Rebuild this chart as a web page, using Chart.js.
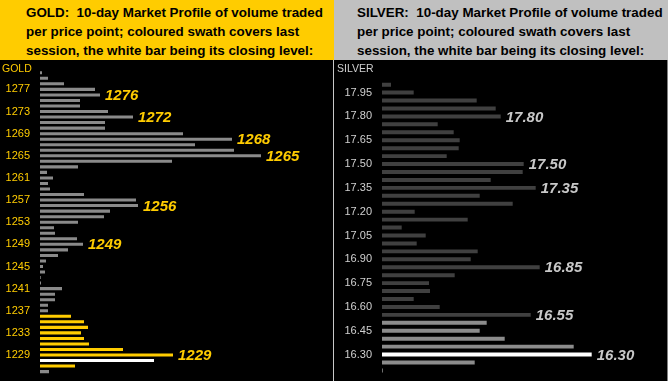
<!DOCTYPE html>
<html><head><meta charset="utf-8">
<script src="https://cdn.jsdelivr.net/npm/chart.js@4.4.1/dist/chart.umd.min.js"></script>
<style>
html,body{margin:0;padding:0;background:#000;}
#wrap{position:relative;width:668px;height:381px;overflow:hidden;background:#000;}
.hdr{position:absolute;top:0;height:60px;width:334px;font:bold 13.4px "Liberation Sans",Arial,sans-serif;line-height:19px;color:#000;white-space:pre;box-sizing:border-box;padding-top:3px;}
#gh{left:0;background:#FFCC00;padding-left:26px;}
#sh{left:334px;background:#C0C0C0;padding-left:23px;}
.panel{position:absolute;top:60px;width:334px;height:321px;}
#gp{left:0;}
#sp{left:334px;}
.name{position:absolute;top:62px;font:10.5px "Liberation Sans",Arial,sans-serif;line-height:12px;}
#gn{left:2px;color:#FFCC00;}
#sn{left:337px;color:#D0D0D0;}
#sep{position:absolute;left:333px;top:60px;width:1px;height:321px;background:#C8C8C8;}
#redge{position:absolute;left:667px;top:60px;width:1px;height:321px;background:#808080;}
</style>
</head><body>
<div id="wrap">
  <div class="hdr" id="gh">GOLD:  10-day Market Profile of volume traded
per price point; coloured swath covers last
session, the white bar being its closing level:</div>
  <div class="hdr" id="sh">SILVER:  10-day Market Profile of volume traded
per price point; coloured swath covers last
session, the white bar being its closing level:</div>
  <div class="panel" id="gp"><canvas id="gc" width="334" height="321"></canvas></div>
  <div class="panel" id="sp"><canvas id="sc" width="334" height="321"></canvas></div>
  <div id="sep"></div>
  <div id="redge"></div>
  <div class="name" id="gn">GOLD</div>
  <div class="name" id="sn">SILVER</div>
</div>
<script>
// ---------- GOLD ----------
const goldPrices = [1280,1279,1278,1277,1276,1275,1274,1273,1272,1271,1270,1269,1268,1267,1266,1265,1264,1263,1262,1261,1260,1259,1258,1257,1256,1255,1254,1253,1252,1251,1250,1249,1248,1247,1246,1245,1244,1243,1242,1241,1240,1239,1238,1237,1236,1235,1234,1233,1232,1231,1230,1229,1228,1227,1226];
const goldVolume = [2,8,24,55,60,40,40,68,93,65,65,143,192,155,194,221,132,38,7,13,8,10,44,96,98,70,64,38,14,15,37,43,28,18,6,3,5,0.7,1,22,15,15,8,8,31,44,48,41,44,49,83,133,114,35,9];
const goldTicks = [1277,1273,1269,1265,1261,1257,1253,1249,1245,1241,1237,1233,1229];
const goldMarked = [1276,1272,1268,1265,1256,1249,1229];
const goldSessionHigh = 1236;
const goldSessionLow = 1227;
const goldClose = 1228;

// ---------- SILVER ----------
const silverPrices = [18.00,17.95,17.90,17.85,17.80,17.75,17.70,17.65,17.60,17.55,17.50,17.45,17.40,17.35,17.30,17.25,17.20,17.15,17.10,17.05,17.00,16.95,16.90,16.85,16.80,16.75,16.70,16.65,16.60,16.55,16.50,16.45,16.40,16.35,16.30,16.25,16.20];
const silverVolume = [9,31.7,94.7,113.7,118.7,55.7,71.7,77.7,76.7,64.7,141.7,140.7,108.7,153.7,97.7,130.7,32.7,85.7,19.7,43.7,34.7,95.7,88.7,157.7,72.7,47,48,31.7,57.7,148.7,104.7,97.7,122.7,191.7,209.7,92.7,0.8];
const silverTicks = ['17.95','17.80','17.65','17.50','17.35','17.20','17.05','16.90','16.75','16.60','16.45','16.30'];
const silverMarked = ['17.80','17.50','17.35','16.85','16.55','16.30'];
const silverSessionHigh = 16.50;
const silverSessionLow = 16.20;
const silverClose = 16.30;

const FONT = '"Liberation Sans", Arial, sans-serif';

const valueLabels = {
  id: 'valueLabels',
  afterDatasetsDraw(chart, args, opts) {
    const ctx = chart.ctx;
    const meta = chart.getDatasetMeta(0);
    ctx.save();
    ctx.font = 'italic bold 15px ' + FONT;
    ctx.fillStyle = opts.color;
    ctx.textBaseline = 'middle';
    ctx.textAlign = 'left';
    opts.marks.forEach(m => {
      const i = chart.data.labels.indexOf(m);
      if (i < 0) return;
      const el = meta.data[i];
      ctx.fillText(m, el.x + 5, el.y + 1);
    });
    ctx.restore();
  }
};

function makeChart(id, labels, values, colors, ticks, marks, cfg) {
  return new Chart(document.getElementById(id), {
    type: 'bar',
    data: {
      labels: labels,
      datasets: [{
        data: values,
        backgroundColor: colors,
        borderWidth: 0,
        barPercentage: cfg.barPct,
        categoryPercentage: 1
      }]
    },
    options: {
      indexAxis: 'y',
      responsive: false,
      animation: false,
      devicePixelRatio: 1,
      layout: { padding: cfg.padding },
      plugins: {
        legend: { display: false },
        tooltip: { enabled: false },
        valueLabels: { color: cfg.labelColor, marks: marks }
      },
      scales: {
        x: { display: false, min: 0, max: cfg.xMax },
        y: {
          grid: { display: true, drawOnChartArea: false, drawTicks: true, tickLength: 10, color: 'rgba(0,0,0,0)' },
          border: { display: false },
          afterFit(scale) { scale.width = cfg.axisWidth; },
          ticks: {
            autoSkip: false,
            padding: 0,
            color: cfg.tickColor,
            font: { family: FONT, size: 11 },
            callback(v) {
              const l = this.getLabelForValue(v);
              return ticks.includes(l) ? l : null;
            }
          }
        }
      }
    },
    plugins: [valueLabels]
  });
}

const goldLabels = goldPrices.map(p => String(p));
const goldColors = goldPrices.map(p => p === goldClose ? '#FFFFFF' : (p >= goldSessionLow && p <= goldSessionHigh ? '#FFCC00' : '#8A8A8A'));
makeChart('gc', goldLabels, goldVolume, goldColors, goldTicks.map(String), goldMarked.map(String), {
  barPct: 0.55, padding: { top: 10, bottom: 5.5, left: 0, right: 1 }, xMax: 293,
  axisWidth: 40, tickColor: '#FFCC00', labelColor: '#FFCC00'
});

const silverLabels = silverPrices.map(p => p.toFixed(2));
const silverColors = silverPrices.map(p => Math.abs(p - silverClose) < 1e-6 ? '#FFFFFF' : (p >= silverSessionLow - 1e-6 && p <= silverSessionHigh + 1e-6 ? '#8C8C8C' : '#404040'));
makeChart('sc', silverLabels, silverVolume, silverColors, silverTicks, silverMarked, {
  barPct: 0.5, padding: { top: 20.7, bottom: 4.3, left: 0, right: 2 }, xMax: 284,
  axisWidth: 48, tickColor: '#D0D0D0', labelColor: '#C8C8C8'
});
</script>
</body></html>
